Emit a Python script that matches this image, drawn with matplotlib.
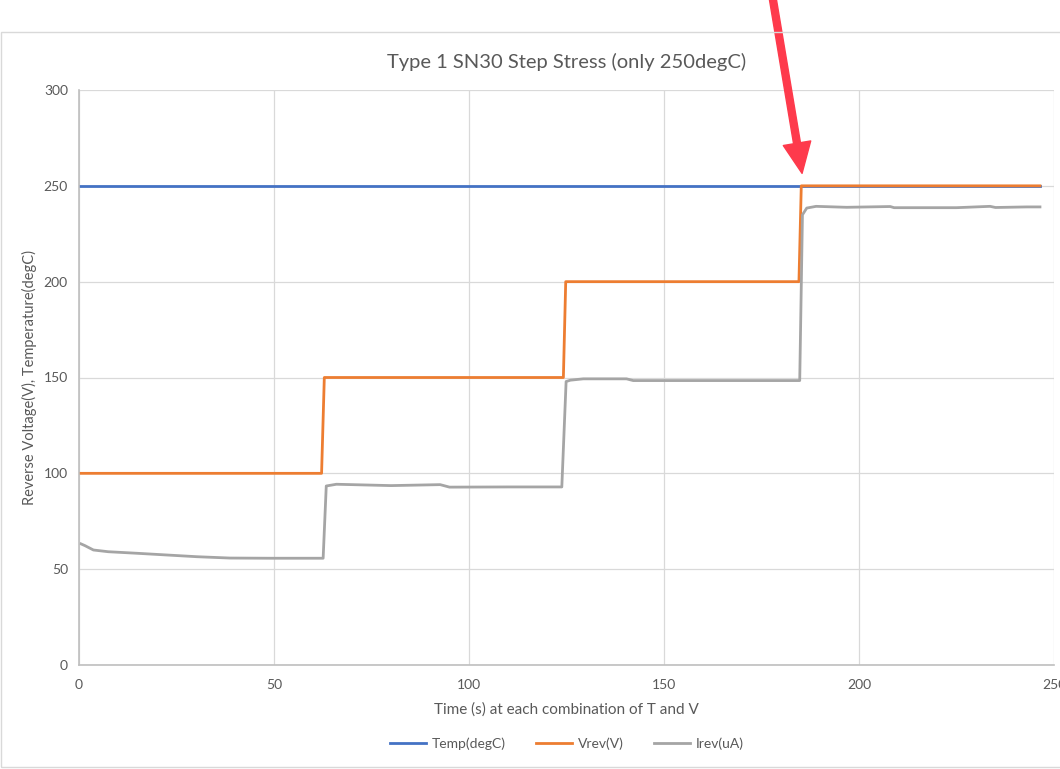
import matplotlib.pyplot as plt
from matplotlib.patches import Rectangle

plt.rcParams['font.family'] = ['Liberation Sans Narrow', 'Lato', 'DejaVu Sans']

# Temperature is held constant through the whole run
temp_t = [0, 246.4]
temp_v = [250, 250]

# Reverse voltage steps
vrev_t = [0, 62.2, 62.9, 124.2, 124.8, 184.6, 185.2, 246.4]
vrev_v = [100, 100, 150, 150, 200, 200, 250, 250]

# Reverse current readings
irev_t = [0.5, 1.5, 3.7, 7.5, 14.8, 22.5, 30.2, 38.7, 49, 61.8,
          62.6, 63.4, 66, 80, 92.6, 95, 110, 123.8,
          124.9, 126, 129.3, 140.4, 142.1, 160, 184.2,
          184.8, 185.5, 186.6, 189, 196.8, 208, 209, 225, 233.6, 235, 243, 246.4]
irev_v = [63.2, 62.3, 60.0, 59.1, 58.3, 57.4, 56.5, 55.8, 55.7, 55.7,
          55.7, 93.4, 94.3, 93.6, 94.1, 92.8, 92.9, 92.9,
          147.9, 148.6, 149.3, 149.3, 148.4, 148.4, 148.4,
          148.4, 234.9, 238.4, 239.3, 238.8, 239.2, 238.6, 238.6, 239.3, 238.7, 239.0, 239.0]

xticks = [0, 50, 100, 150, 200, 250]
yticks = [0, 50, 100, 150, 200, 250, 300]

fig = plt.figure(figsize=(10.6, 7.69), dpi=100)

# outer chart frame
fig.patches.append(Rectangle((1 / 1060, 1 - 767 / 769), 1.2, (767 - 32) / 769,
                             transform=fig.transFigure, fill=False,
                             edgecolor='#d9d9d9', linewidth=1))

ax = fig.add_axes([79 / 1060, 1 - 665 / 769, 975 / 1060, 575 / 769])

ax.plot(temp_t, temp_v, color='#4472c4', lw=2, label='Temp(degC)')
ax.plot(vrev_t, vrev_v, color='#ed7d31', lw=2, label='Vrev(V)')
ax.plot(irev_t, irev_v, color='#a5a5a5', lw=2, label='Irev(uA)')

ax.set_xlim(0, 250)
ax.set_ylim(0, 300)
ax.set_xticks(xticks)
ax.set_yticks(yticks)
ax.grid(True, color='#d9d9d9', lw=0.9)
ax.set_axisbelow(True)
ax.tick_params(length=0, labelsize=10, colors='#595959')
ax.tick_params(axis='x', pad=10)
ax.tick_params(axis='y', pad=8)
for s in ['top', 'right']:
    ax.spines[s].set_visible(False)
ax.spines['left'].set_color('#bfbfbf')
ax.spines['bottom'].set_color('#bfbfbf')
ax.spines['left'].set_linewidth(1.2)
ax.spines['bottom'].set_linewidth(1.2)

ax.set_title('Type 1 SN30 Step Stress (only 250degC)', fontsize=14.5,
             color='#595959', pad=16)
ax.set_xlabel('Time (s) at each combination of T and V', fontsize=11,
              color='#595959', labelpad=8)
ax.set_ylabel('Reverse Voltage(V), Temperature(degC)', fontsize=10.5,
              color='#595959', labelpad=5)

ax.legend(loc='center', bbox_to_anchor=(567 / 1060, 1 - 744 / 769),
          bbox_transform=fig.transFigure, ncol=3, frameon=False,
          fontsize=10, labelcolor='#595959', handlelength=2.6,
          columnspacing=2.2, handletextpad=0.4)

# red pointer at the final voltage step
ax.annotate('', xy=(185.4, 256.5), xycoords='data',
            xytext=(772, 775), textcoords='figure pixels',
            annotation_clip=False,
            arrowprops=dict(color='#fe3a4c', width=5, headwidth=20,
                            headlength=22, shrink=0))

fig.savefig('out.png', dpi=100)
